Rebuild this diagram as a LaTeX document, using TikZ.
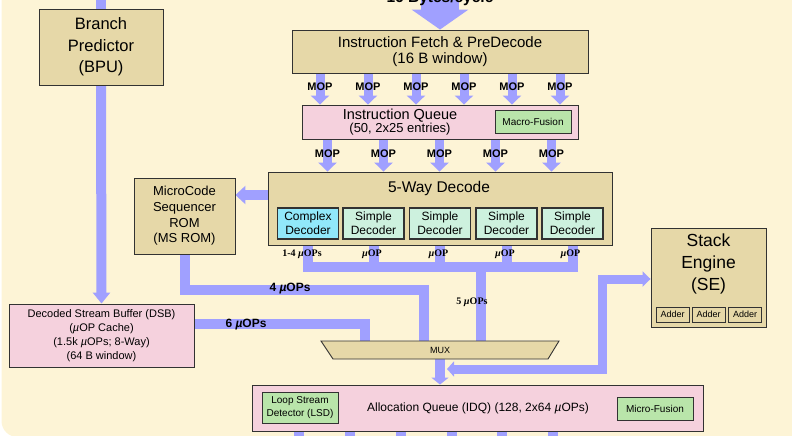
\documentclass[tikz,border=0pt]{standalone}
\usepackage{fontspec}
\setmainfont{Liberation Sans}
\newfontfamily\serifb{Liberation Serif}
\usetikzlibrary{arrows.meta,backgrounds}
\definecolor{creamc}{RGB}{253,244,214}
\definecolor{tanc}{RGB}{230,216,168}
\definecolor{pinkc}{RGB}{245,209,221}
\definecolor{greenc}{RGB}{185,229,170}
\definecolor{cyanc}{RGB}{145,232,250}
\definecolor{mintc}{RGB}{205,241,222}
\definecolor{flowc}{RGB}{160,160,255}
\definecolor{bord}{RGB}{50,50,50}
\begin{document}
\begin{tikzpicture}[x=1pt,y=-1pt,
  bx/.style={draw=bord, line width=0.9pt, inner sep=0pt, align=center},
  tanb/.style={bx, fill=tanc},
  pinkb/.style={bx, fill=pinkc},
  greenb/.style={bx, fill=greenc},
  decb/.style={bx, fill=mintc, line width=1.1pt, minimum width=61pt, minimum height=31pt, font=\fontsize{12}{14.3}\selectfont},
  addb/.style={bx, fill=tanc, minimum width=33pt, minimum height=15pt, font=\fontsize{9}{9}\selectfont},
  bus/.style={draw=flowc, line width=10pt},
  mopar/.style={draw=flowc, line width=9pt, -{Triangle[length=9pt,width=18pt]}},
  moplab/.style={font=\bfseries\fontsize{11}{11}\selectfont, inner sep=0pt},
  serlab/.style={font=\serifb\bfseries\fontsize{10}{10}\selectfont, inner sep=0pt},
  sanslab/.style={font=\bfseries\fontsize{12}{12}\selectfont, inner sep=0pt},
  txt/.style={inner sep=0pt, align=center}
]
\useasboundingbox (0,0) rectangle (792,436);

% ---------- boxes ----------
\node[tanb, minimum width=124pt, minimum height=76pt, font=\fontsize{16.5}{21.6}\selectfont] (bpu) at (101,47) {Branch\\Predictor\\(BPU)};
\node[tanb, minimum width=296pt, minimum height=43pt, font=\fontsize{15}{15.5}\selectfont] (fetch) at (440,51.5) {Instruction Fetch \& PreDecode\\(16 B window)};
\node[pinkb, minimum width=276pt, minimum height=34pt] (iq) at (440,122) {};
\node[txt, font=\fontsize{13}{11.5}\selectfont] (iqtext) at (400,122.3) {{\fontsize{14.5}{11.5}\selectfont Instruction Queue}\\{\fontsize{13}{11.5}\selectfont (50, 2x25 entries)}};
\node[greenb, minimum width=76pt, minimum height=23pt, font=\fontsize{10}{12}\selectfont] (macro) at (533,121.5) {Macro-Fusion};

\node[tanb, minimum width=344pt, minimum height=73pt] (decode) at (440,208.5) {};
\node[inner sep=0pt, anchor=base, font=\fontsize{15.5}{16}\selectfont] (dtitle) at (439,192) {5-Way Decode};
\node[decb, fill=cyanc] (d1) at (308,223.5) {Complex\\Decoder};
\node[decb] (d2) at (373.5,223.5) {Simple\\Decoder};
\node[decb] (d3) at (440,223.5) {Simple\\Decoder};
\node[decb] (d4) at (506.5,223.5) {Simple\\Decoder};
\node[decb] (d5) at (572.5,223.5) {Simple\\Decoder};

\node[tanb, minimum width=101pt, minimum height=76pt, font=\fontsize{13}{15.6}\selectfont] (msrom) at (184.5,216) {MicroCode\\Sequencer\\ROM\\(MS ROM)};

\node[pinkb, minimum width=185pt, minimum height=63pt, font=\fontsize{11}{13.9}\selectfont] (dsb) at (101.5,335.5) {Decoded Stream Buffer (DSB)\\({\itshape µ}OP Cache)\\(1.5k {\itshape µ}OPs; 8-Way)\\(64 B window)};

\node[tanb, minimum width=115pt, minimum height=99pt] (se) at (708.5,277.5) {};
\node[txt, font=\fontsize{17.5}{22}\selectfont] (setext) at (708.5,264.2) {Stack\\Engine\\(SE)};
\node[addb] (a1) at (672.5,314.5) {Adder};
\node[addb] (a2) at (708.5,314.5) {Adder};
\node[addb] (a3) at (745,314.5) {Adder};

\draw[bx, fill=tanc] (321,341) -- (559,341) -- (548,359) -- (333,359) -- cycle;
\node[inner sep=0pt, minimum height=18pt, minimum width=215pt, font=\fontsize{9}{9}\selectfont] (mux) at (440,350) {MUX};

\node[pinkb, minimum width=451pt, minimum height=46pt] (idq) at (477.5,408) {};
\node[txt, font=\fontsize{12}{12}\selectfont] (idqtext) at (478,408.5) {Allocation Queue (IDQ) (128, 2x64 {\itshape µ}OPs)};
\node[greenb, minimum width=76pt, minimum height=31pt, font=\fontsize{10}{12.3}\selectfont] (lsd) at (300,407.5) {Loop Stream\\Detector (LSD)};
\node[greenb, minimum width=76pt, minimum height=23pt, font=\fontsize{10}{12}\selectfont] (micro) at (655,408.5) {Micro-Fusion};

% ---------- coordinates ----------
\coordinate (bigtop) at (440,-6);
\coordinate (bputop) at (101,-6);
\coordinate (busy) at (0,267);
\coordinate (j5) at (481,267);
\coordinate (muxtop) at (440,341);
\coordinate (k4) at (424,290);
\coordinate (k6) at (365,324);
\coordinate (s1) at (602,369);
\coordinate (s2) at (602,279);
\coordinate (mjoin) at (447,369);

% ---------- connectors (background) ----------
\begin{scope}[on background layer]
\fill[creamc, rounded corners=16pt] (1.5,-40) rectangle (840,437);
\draw[draw=flowc, line width=38pt, -{Triangle[length=20pt,width=56pt]}] (bigtop) -- (fetch.north);
\draw[bus] (bputop) -- (bpu.north);
\draw[bus, -{Triangle[length=11pt,width=17pt]}] (bpu.south) -- (dsb.north);
\foreach \x [count=\i] in {320,368,416,464,512,560}
  \draw[mopar] (fetch.south -| \x,0) -- (iq.north -| \x,0);
\foreach \x [count=\i] in {327.5,383.5,439.5,495.5,551.5}
  \draw[mopar] (iq.south -| \x,0) -- (decode.north -| \x,0);
\draw[bus, -{Triangle[length=10pt,width=18pt]}] (decode.west |- 0,195) -- (msrom.east |- 0,195);
\draw[bus] (d1 |- decode.south) -- (d1 |- busy) -- (d5 |- busy) -- (d5 |- decode.south);
\foreach \d in {d2,d3,d4}
  \draw[bus] (\d |- decode.south) -- (\d |- busy);
\draw[bus] (j5) -- (j5 |- muxtop);
\draw[bus] (msrom.south) |- (k4) -- (k4 |- muxtop);
\draw[bus] (k6 -| dsb.east) -- (k6) -- (k6 |- muxtop);
\draw[bus, -{Triangle[length=7pt,width=17pt]}] (mux.south) -- (idq.north -| mux.south);
\draw[draw=flowc, line width=9pt, {Triangle[length=7pt,width=15pt]}-{Triangle[length=8pt,width=15pt]}] (mjoin) -- (s1) -- (s2) -- (s2 -| se.west);
\foreach \x in {299,350,401,452,502,553}
  \draw[bus] (idq.south -| \x,0) -- (\x,445);
\end{scope}

% ---------- labels ----------
\node[inner sep=0pt, anchor=base, font=\bfseries\fontsize{15.5}{16}\selectfont] (bytes) at (440,2.5) {16 Bytes/cycle};
\foreach \x [count=\i] in {320,368,416,464,512,560}
  \node[moplab] (mopa\i) at (\x,87) {MOP};
\foreach \x [count=\i] in {327.5,383.5,439.5,495.5,551.5}
  \node[moplab] (mopb\i) at (\x,153.5) {MOP};
\node[serlab] (l14) at (302,254) {1-4 {\itshape µ}OPs};
\node[serlab] (lu2) at (372,254) {{\itshape µ}OP};
\node[serlab] (lu3) at (438.5,254) {{\itshape µ}OP};
\node[serlab] (lu4) at (505,254) {{\itshape µ}OP};
\node[serlab] (lu5) at (570.5,254) {{\itshape µ}OP};
\node[serlab] (l5) at (472,302) {5 {\itshape µ}OPs};
\node[sanslab] (l4) at (290,288.5) {4 {\itshape µ}OPs};
\node[sanslab] (l6) at (246,324.5) {6 {\itshape µ}OPs};
\end{tikzpicture}
\end{document}
